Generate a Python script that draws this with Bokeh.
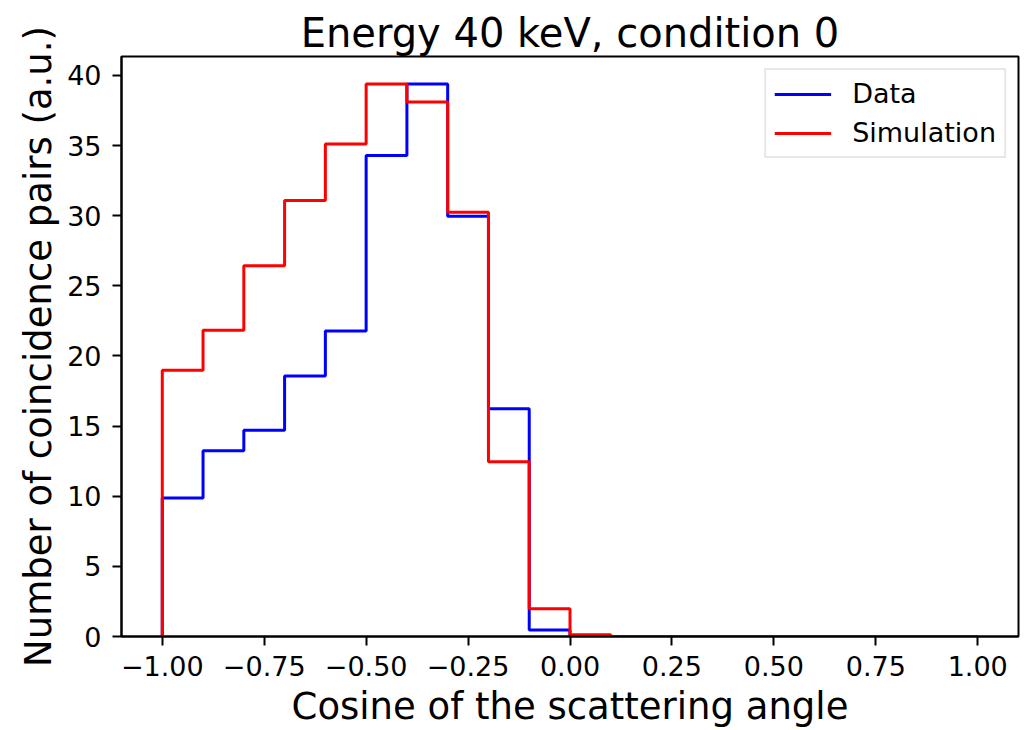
from bokeh.plotting import figure
from bokeh.models import FixedTicker, Legend, LegendItem, Range1d
from bokeh.embed import file_html
from bokeh.resources import INLINE

# Histogram bin edges (cosine of the scattering angle)
bin_edges = [-1.0, -0.9, -0.8, -0.7, -0.6, -0.5, -0.4, -0.3, -0.2, -0.1,
             0.0, 0.1, 0.2, 0.3, 0.4, 0.5, 0.6, 0.7, 0.8, 0.9, 1.0]

# Counts per bin
data_counts = [9.87, 13.24, 14.71, 18.58, 21.78, 34.3, 39.38, 29.96, 16.23, 0.47,
               0, 0, 0, 0, 0, 0, 0, 0, 0, 0]
sim_counts = [18.98, 21.83, 26.43, 31.08, 35.11, 39.38, 38.1, 30.25, 12.45, 1.97,
              0.12, 0, 0, 0, 0, 0, 0, 0, 0, 0]

x_ticks = [-1.0, -0.75, -0.5, -0.25, 0.0, 0.25, 0.5, 0.75, 1.0]
x_tick_labels = ["\u22121.00", "\u22120.75", "\u22120.50", "\u22120.25", "0.00",
                 "0.25", "0.50", "0.75", "1.00"]
y_ticks = [0, 5, 10, 15, 20, 25, 30, 35, 40]

FONT = "DejaVu Sans"


def step_outline(edges, counts):
    """Outline of a step histogram: up from zero, across each bin, back to zero."""
    xs, ys = [edges[0]], [0.0]
    for i, c in enumerate(counts):
        xs += [edges[i], edges[i + 1]]
        ys += [c, c]
    xs.append(edges[-1])
    ys.append(0.0)
    return xs, ys


ymax = max(max(data_counts), max(sim_counts)) * 1.05

p = figure(width=1029, height=730, output_backend="svg", toolbar_location=None,
           x_range=Range1d(-1.1, 1.1), y_range=Range1d(0, ymax),
           title="Energy 40 keV, condition 0")

p.min_border_left = 121
p.min_border_right = 11
p.min_border_top = 56
p.min_border_bottom = 94

p.background_fill_color = "white"
p.border_fill_color = "white"
p.outline_line_color = "black"
p.outline_line_width = 2
p.xgrid.visible = False
p.ygrid.visible = False

p.title.text_font = FONT
p.title.text_font_size = "40px"
p.title.text_font_style = "normal"
p.title.align = "center"
p.title.vertical_align = "middle"
p.title.text_color = "black"
p.title.standoff = 0
p.title.text_line_height = 1.0

dx, dy = step_outline(bin_edges, data_counts)
sx, sy = step_outline(bin_edges, sim_counts)
r_data = p.line(dx, dy, line_color="blue", line_width=3)
r_sim = p.line(sx, sy, line_color="red", line_width=3)

for ax in (p.xaxis[0], p.yaxis[0]):
    ax.axis_line_color = "black"
    ax.axis_line_width = 2
    ax.major_tick_line_color = "black"
    ax.major_tick_line_width = 2
    ax.major_tick_out = 9
    ax.major_tick_in = 0
    ax.minor_tick_out = 0
    ax.minor_tick_in = 0
    ax.major_label_text_font = FONT
    ax.major_label_text_font_size = "27px"
    ax.major_label_text_color = "black"
    ax.axis_label_text_font = FONT
    ax.axis_label_text_font_size = "37px"
    ax.axis_label_text_font_style = "normal"
    ax.axis_label_text_color = "black"

p.xaxis.major_label_standoff = 10
p.yaxis.major_label_standoff = 11
p.xaxis.ticker = FixedTicker(ticks=x_ticks)
p.xaxis.major_label_overrides = dict(zip(x_ticks, x_tick_labels))
p.yaxis.ticker = FixedTicker(ticks=y_ticks)
p.xaxis.axis_label = "Cosine of the scattering angle"
p.yaxis.axis_label = "Number of coincidence pairs (a.u.)"
p.xaxis.axis_label_standoff = 6
p.yaxis.axis_label_standoff = 4

legend = Legend(items=[LegendItem(label="Data", renderers=[r_data]),
                       LegendItem(label="Simulation", renderers=[r_sim])],
                location="top_right")
legend.label_text_font = FONT
legend.label_text_font_size = "27px"
legend.label_text_color = "black"
legend.glyph_width = 57
legend.glyph_height = 30
legend.label_height = 30
legend.label_standoff = 21
legend.spacing = 8
legend.padding = 8
legend.margin = 12
legend.border_line_color = "#d0d0d0"
legend.border_line_width = 2
legend.background_fill_alpha = 0.8
p.add_layout(legend)

open("out.html", "w").write(file_html(p, INLINE))
